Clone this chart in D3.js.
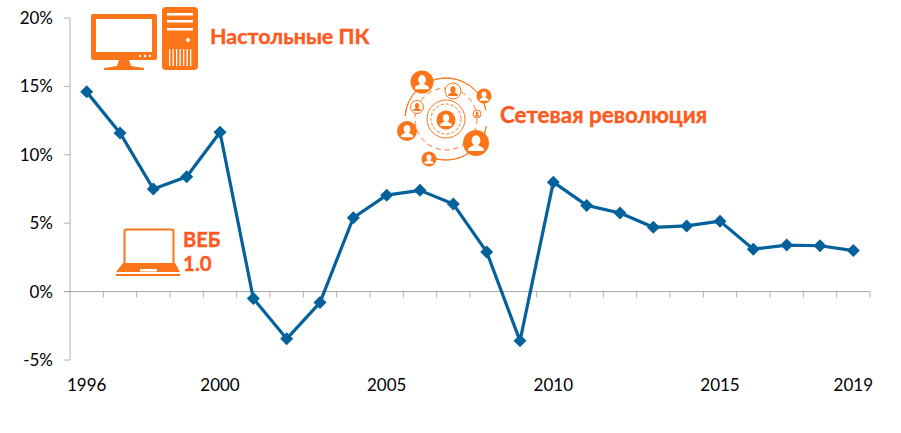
<!DOCTYPE html>
<html>
<head>
<meta charset="utf-8">
<script src="https://cdn.jsdelivr.net/npm/d3@7"></script>
<style>
  html, body { margin: 0; padding: 0; background: #fff; }
  svg { display: block; }
  text { font-family: Lato, "Open Sans", sans-serif; }
</style>
</head>
<body>
<svg id="chart" width="901" height="433"></svg>
<script>
const years = [1996, 1997, 1998, 1999, 2000, 2001, 2002, 2003, 2004, 2005, 2006, 2007,
  2008, 2009, 2010, 2011, 2012, 2013, 2014, 2015, 2016, 2017, 2018, 2019];
const growth = [14.6, 11.6, 7.5, 8.4, 11.65, -0.5, -3.45, -0.8, 5.4, 7.05, 7.4, 6.4,
  2.9, -3.6, 8.0, 6.3, 5.75, 4.7, 4.8, 5.15, 3.1, 3.4, 3.35, 3.0];
const yTicks = [-5, 0, 5, 10, 15, 20];
const yearLabels = [1996, 2000, 2005, 2010, 2015, 2019];

const ORANGE = '#fd7519';
const TEXT_ORANGE = '#fc5a1e';
const BLUE = '#04619b';
const AXIS = '#b0b0b0';

const svg = d3.select('#chart');

const y = d3.scaleLinear().domain([-5, 20]).range([360, 18]);
const x = d3.scaleBand().domain(years).range([70, 870]);
const cx = (year) => x(year) + x.bandwidth() / 2;

// axes, excel style: ticks sit between the categories
const axisG = svg.append('g');
axisG.append('line')
  .attr('x1', 70).attr('x2', 70)
  .attr('y1', y(20)).attr('y2', y(-5))
  .attr('stroke', AXIS).attr('stroke-width', 1);
axisG.selectAll('.ytick')
  .data(yTicks)
  .join('line')
  .attr('class', 'ytick')
  .attr('x1', 64).attr('x2', 70)
  .attr('y1', (d) => y(d)).attr('y2', (d) => y(d))
  .attr('stroke', AXIS);
axisG.append('line')
  .attr('x1', 64).attr('x2', 870)
  .attr('y1', y(0)).attr('y2', y(0))
  .attr('stroke', '#a6a6a6');
axisG.selectAll('.xtick')
  .data(years)
  .join('line')
  .attr('class', 'xtick')
  .attr('x1', (d) => x(d) + x.bandwidth())
  .attr('x2', (d) => x(d) + x.bandwidth())
  .attr('y1', y(0)).attr('y2', y(0) + 6)
  .attr('stroke', AXIS);

svg.selectAll('.ylabel')
  .data(yTicks)
  .join('text')
  .attr('class', 'ylabel')
  .attr('x', 53)
  .attr('y', (d) => y(d) + 6)
  .attr('text-anchor', 'end')
  .attr('font-size', 17)
  .attr('fill', '#000')
  .text((d) => `${d}%`);

svg.selectAll('.xlabel')
  .data(yearLabels)
  .join('text')
  .attr('class', 'xlabel')
  .attr('x', cx)
  .attr('y', 391)
  .attr('text-anchor', 'middle')
  .attr('font-size', 17)
  .attr('fill', '#000')
  .text((d) => d);

// series
const line = d3.line().x((d) => cx(d.year)).y((d) => y(d.value));
const points = years.map((year, i) => ({ year, value: growth[i] }));

svg.append('path')
  .datum(points)
  .attr('d', line)
  .attr('fill', 'none')
  .attr('stroke', BLUE)
  .attr('stroke-width', 3.2)
  .attr('stroke-linejoin', 'round');

svg.selectAll('.marker')
  .data(points)
  .join('path')
  .attr('class', 'marker')
  .attr('d', 'M0,-6.5L6.5,0L0,6.5L-6.5,0Z')
  .attr('fill', BLUE)
  .attr('transform', (d) => `translate(${cx(d.year)},${y(d.value)})`);

// desktop icon
const pc = svg.append('g');
pc.append('rect').attr('x', 91).attr('y', 14).attr('width', 66).attr('height', 46).attr('rx', 2).attr('fill', ORANGE);
pc.append('rect').attr('x', 96).attr('y', 19).attr('width', 56).attr('height', 33).attr('fill', '#fff');
pc.append('path').attr('d', 'M119,60H129L131,66L144,68V70H104V68L117,66Z').attr('fill', ORANGE);
pc.selectAll('.dot').data([139, 144, 149]).join('rect')
  .attr('class', 'dot').attr('x', (d) => d).attr('y', 55).attr('width', 2).attr('height', 2).attr('fill', '#fff');
pc.append('rect').attr('x', 162).attr('y', 7).attr('width', 36).attr('height', 63).attr('rx', 4).attr('fill', ORANGE);
pc.selectAll('.slot').data([13, 20, 28]).join('rect')
  .attr('class', 'slot').attr('x', 167).attr('y', (d) => d).attr('width', 26).attr('height', 2.5).attr('fill', '#fff');
pc.append('circle').attr('cx', 188).attr('cy', 40).attr('r', 2).attr('fill', '#fff');
pc.selectAll('.grill').data([169, 172.5, 176, 179.5, 183, 186.5, 190]).join('rect')
  .attr('class', 'grill').attr('x', (d) => d).attr('y', 49).attr('width', 1.3).attr('height', 17).attr('fill', '#fff');

// laptop icon
const laptop = svg.append('g');
laptop.append('rect').attr('x', 124.5).attr('y', 229.5).attr('width', 49).attr('height', 36).attr('rx', 2)
  .attr('fill', '#fff').attr('stroke', ORANGE).attr('stroke-width', 2);
laptop.append('path').attr('d', 'M123,263H175L180,272H116Z').attr('fill', ORANGE);
laptop.append('rect').attr('x', 140).attr('y', 269).attr('width', 17).attr('height', 2.5).attr('fill', '#fff');
laptop.append('rect').attr('x', 116).attr('y', 274).attr('width', 64).attr('height', 2).attr('fill', ORANGE);

// network icon
const net = svg.append('g');
const netCenter = net.append('g').attr('transform', 'translate(446,119)');
const outerArc = d3.arc().innerRadius(41).outerRadius(41);
[[-1.5, 1.35], [1.75, 3.6]].forEach(([startAngle, endAngle]) => {
  netCenter.append('path')
    .attr('d', outerArc({ startAngle, endAngle }))
    .attr('fill', 'none')
    .attr('stroke', ORANGE);
});
const ring = (r, dash) => netCenter.append('circle')
  .attr('r', r)
  .attr('fill', 'none').attr('stroke', ORANGE)
  .attr('stroke-dasharray', dash || null);
ring(31, '5 4');
ring(19);
ring(15, '3 2');
const person = (px, py, r, outlined) => {
  const g = net.append('g').attr('transform', `translate(${px},${py})`);
  g.append('circle').attr('r', r)
    .attr('fill', outlined ? '#fff' : ORANGE)
    .attr('stroke', outlined ? ORANGE : 'none');
  const c = outlined ? ORANGE : '#fff';
  g.append('ellipse').attr('cy', -r * 0.2).attr('rx', r * 0.33).attr('ry', r * 0.4).attr('fill', c);
  g.append('path')
    .attr('d', `M${-r * 0.6},${r * 0.62}V${r * 0.42}L${-r * 0.15},${r * 0.15}H${r * 0.15}L${r * 0.6},${r * 0.42}V${r * 0.62}Z`)
    .attr('fill', c);
};
person(422, 82, 11.5);
person(453, 91, 8, true);
person(484, 96, 7.5);
person(417, 107, 6.5, true);
person(446, 120, 9.5);
person(477, 114, 4, true);
person(407, 131, 10);
person(476, 143, 13);
person(429, 159, 7.5);

// callouts
const callouts = [
  { label: 'Настольные ПК', x: 210, y: 44, size: 21.5 },
  { label: 'Сетевая революция', x: 500, y: 122.5, size: 22.4 },
  { label: 'ВЕБ', x: 183, y: 247, size: 20 },
  { label: '1.0', x: 183, y: 271, size: 20.5 },
];
svg.selectAll('.callout')
  .data(callouts)
  .join('text')
  .attr('class', 'callout')
  .attr('x', (d) => d.x)
  .attr('y', (d) => d.y)
  .attr('font-size', (d) => d.size)
  .attr('font-weight', 700)
  .attr('fill', TEXT_ORANGE)
  .attr('stroke', TEXT_ORANGE)
  .attr('stroke-width', 0.4)
  .text((d) => d.label);
</script>
</body>
</html>
